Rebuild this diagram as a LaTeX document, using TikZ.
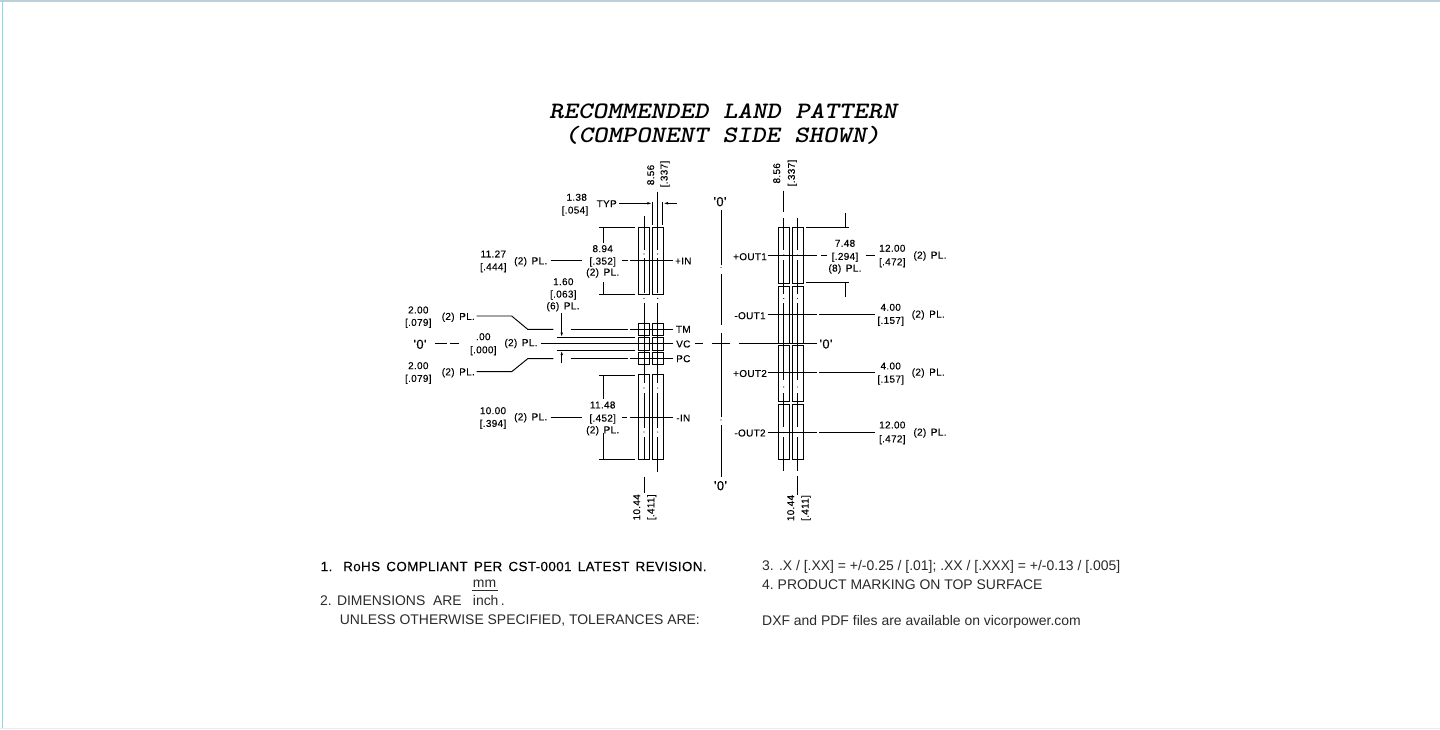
\documentclass[tikz,border=0pt]{standalone}
\usepackage{fontspec}
\usetikzlibrary{arrows.meta}
\setmainfont{Liberation Sans}
\newfontfamily\cadfont[LetterSpace=3,WordSpace=1.5,FakeBold=0.15]{Liberation Sans}
\definecolor{noteink}{HTML}{2A2A2A}
\tikzset{
  ln/.style={draw=black,line width=0.95pt},
  pad/.style={draw=black,line width=0.95pt,fill=none},
  arr/.style={ln,-{Latex[length=5pt,width=2.6pt]}},
  cad/.style={inner sep=0pt,text=black,font=\cadfont\fontsize{10}{10}\selectfont},
  cadv/.style={cad,rotate=90},
  zero/.style={inner sep=0pt,text=black,font=\cadfont\fontsize{13}{13}\selectfont},
  note/.style={inner sep=0pt,anchor=west,text=noteink,font=\fontsize{13.95}{14}\selectfont},
  titletxt/.style={inner sep=0pt,text=black,font=\ttfamily\itshape\bfseries\fontsize{23.5}{24}\selectfont},
}
\begin{document}
\begin{tikzpicture}[x=1pt,y=-1pt]
\useasboundingbox (0,0) rectangle (1440,729);
% frame
\draw[draw=black!0,fill=white] (0,0) rectangle (1440,729);
\fill[fill={rgb,255:red,190;green,208;blue,218}] (0,0) rectangle (1440,1.6);
\fill[fill={rgb,255:red,165;green,205;blue,216}] (1.8,0) rectangle (3,729);
\fill[fill={rgb,255:red,235;green,235;blue,235}] (0,727.8) rectangle (1440,729);

% title
\node[titletxt] (title1) at (723,111) {\scalebox{1.175}[1]{RECOMMENDED LAND PATTERN}};
\node[titletxt] (title2) at (722.5,135) {\scalebox{1.165}[1]{(COMPONENT SIDE SHOWN)}};

% left pads
\foreach \xa/\xb in {638.7/649.3,652.3/663.3}{
  \foreach \ya/\yb in {227.7/294,323.3/335.3,337.7/350,352.3/364.3,374.7/459.7}{
    \draw[pad] (\xa,\ya) rectangle (\xb,\yb);
  }
}
% right pads
\foreach \xa/\xb in {778.3/789.3,792.3/803}{
  \foreach \ya/\yb in {227.7/283.3,286.3/343.3,345.7/401,404/459.3}{
    \draw[pad] (\xa,\ya) rectangle (\xb,\yb);
  }
}
% centrelines of the columns
\foreach \x in {644,657.7}{
  \draw[ln] (\x,216)--(\x,250) (\x,258)--(\x,293) (\x,303)--(\x,383) (\x,393)--(\x,428) (\x,437)--(\x,460);
  \fill (\x,254) circle (.55pt) (\x,298.5) circle (.55pt) (\x,388) circle (.55pt) (\x,432) circle (.55pt);
}
\draw[ln] (657.7,460)--(657.7,471.7);
\draw[ln] (644,476.7)--(644,493);
\foreach \x in {783.7,797.3}{
  \draw[ln] (\x,218)--(\x,250) (\x,260)--(\x,294) (\x,303)--(\x,380) (\x,393)--(\x,427) (\x,437)--(\x,470.5);
  \fill (\x,255) circle (.55pt) (\x,298.5) circle (.55pt) (\x,387) circle (.55pt) (\x,432.5) circle (.55pt);
}
\draw[ln] (783.7,190.7)--(783.7,211.7);
\draw[ln] (797.3,475.7)--(797.3,495);

% left top dimension
\draw[ln] (657.7,191.7)--(657.7,221);
\draw[ln] (652.7,201.7)--(652.7,225) (662.7,201.7)--(662.7,225);
\draw[arr] (619.3,203.3)--(652.4,203.3);
\draw[arr] (676.7,203.3)--(663,203.3);
\node[cadv] (l856) at (650.7,175) {8.56};
\node[cadv] (l337) at (665,174) {[.337]};
\node[cad] (l138) at (576.7,197.3) {1.38};
\node[cad] (l054) at (575,211) {[.054]};
\node[cad] (ltyp) at (606.7,203.7) {TYP};

% +IN
\draw[ln] (599,227.7)--(635,227.7) (599,294)--(635,294);
\draw[ln] (603,227.7)--(603,243.3) (603,281.7)--(603,294);
\node[cad] (l894) at (602.7,248.7) {8.94};
\node[cad] (l352) at (602.7,262) {[.352]};
\node[cad] (l2pl1) at (602.7,273) {(2) PL.};
\draw[ln] (550.7,260.7)--(581.7,260.7) (621.7,260.7)--(628.3,260.7) (630,260.7)--(673.3,260.7);
\node[cad] (lin) at (683.3,261) {+IN};
\node[cad] (l1127) at (493.3,254) {11.27};
\node[cad] (l444) at (493.3,267.7) {[.444]};
\node[cad] (l2pl2) at (530.7,261.7) {(2) PL.};

% 1.60
\node[cad] (l160) at (563.3,281.7) {1.60};
\node[cad] (l063) at (563.3,295) {[.063]};
\node[cad] (l6pl) at (563,306.7) {(6) PL.};
\draw[arr] (561.7,313)--(561.7,337.5);
\draw[arr] (561.7,363.3)--(561.7,350.2);

% signal pins, leaders
\node[cad] (l200a) at (418.3,310) {2.00};
\node[cad] (l079a) at (418.3,323.3) {[.079]};
\node[cad] (l2pl3) at (458.3,317.3) {(2) PL.};
\draw[ln] (476.7,316)--(511.7,316)--(527.7,329.3)--(553.3,329.3);
\draw[ln] (570.7,329.3)--(628.3,329.3) (630,329.3)--(673.3,329.3);
\node[cad] (ltm) at (683.3,329.3) {TM};
\draw[ln] (556.7,337.7)--(635,337.7) (556.7,350)--(635,350);
\draw[ln] (541,343.7)--(673.3,343.7);
\node[cad] (lvc) at (683.3,344) {VC};
\node[zero] (z1) at (420,344.3) {'0'};
\draw[ln] (435,343.7)--(446.7,343.7) (450,343.7)--(459.3,343.7);
\node[cad] (l00) at (483.3,336.7) {.00};
\node[cad] (l000) at (483.3,350.7) {[.000]};
\node[cad] (l2pl4) at (521,343.5) {(2) PL.};
\node[cad] (l200b) at (418.3,365.7) {2.00};
\node[cad] (l079b) at (418.3,379.3) {[.079]};
\node[cad] (l2pl5) at (458.3,372.7) {(2) PL.};
\draw[ln] (476.7,371.7)--(511.7,371.7)--(527.7,358.7)--(553.3,358.7);
\draw[ln] (570.7,358.7)--(628.3,358.7) (630,358.7)--(673.3,358.7);
\node[cad] (lpc) at (683.3,358.7) {PC};

% -IN
\draw[ln] (599,375)--(635,375) (599,459.7)--(635,459.7);
\draw[ln] (603,375)--(603,399) (603,433.3)--(603,459.7);
\node[cad] (l1148) at (602.7,405) {11.48};
\node[cad] (l452) at (602.7,419) {[.452]};
\node[cad] (l2pl6) at (602.7,430.7) {(2) PL.};
\draw[ln] (550.7,417.3)--(582.3,417.3) (621.7,417.3)--(626.7,417.3) (630,417.3)--(673.3,417.3);
\node[cad] (lmin) at (683.3,418) {-IN};
\node[cad] (l1000) at (493,410.7) {10.00};
\node[cad] (l394) at (493,424.3) {[.394]};
\node[cad] (l2pl7) at (530.7,417.7) {(2) PL.};
\node[cadv] (l1044a) at (636.7,507.3) {10.44};
\node[cadv] (l411a) at (651.7,507.3) {[.411]};

% centre axis
\draw[ln] (721,210)--(721,265) (721,274)--(721,325) (721,333.3)--(721,416.7) (721,425)--(721,476.7);
\fill (721,267.3) circle (.55pt) (721,420) circle (.55pt);
\draw[ln] (695,343.7)--(703,343.7) (711.7,343.7)--(730,343.7) (739,343.7)--(816.7,343.7);
\node[zero] (z2) at (720,201.7) {'0'};
\node[zero] (z3) at (720.5,485.7) {'0'};
\node[zero] (z4) at (826,344) {'0'};

% right side
\node[cadv] (r856) at (776.7,173.3) {8.56};
\node[cadv] (r337) at (792.3,173) {[.337]};
\draw[ln] (806,227.7)--(849.3,227.7) (806,282.7)--(849.3,282.7);
\draw[ln] (845,213.3)--(845,227.7) (845,282.7)--(845,296.7);
\node[cad] (rout1p) at (750,256.7) {+OUT1};
\draw[ln] (767.7,255.3)--(816.7,255.3) (821,255.3)--(827,255.3) (865.7,255.3)--(875,255.3);
\node[cad] (r748) at (845,243.3) {7.48};
\node[cad] (r294) at (845,257.3) {[.294]};
\node[cad] (r8pl) at (845,269) {(8) PL.};
\node[cad] (r1200a) at (892.3,248.3) {12.00};
\node[cad] (r472a) at (892.3,262.7) {[.472]};
\node[cad] (r2pl1) at (930,256) {(2) PL.};
\node[cad] (rout1m) at (750,315.7) {-OUT1};
\draw[ln] (767.7,314.3)--(816.7,314.3) (819.3,314.3)--(875,314.3);
\node[cad] (r400a) at (890.7,307.3) {4.00};
\node[cad] (r157a) at (890.7,321.3) {[.157]};
\node[cad] (r2pl2) at (928.3,315) {(2) PL.};
\node[cad] (rout2p) at (750,373.5) {+OUT2};
\draw[ln] (767.7,372.7)--(816.7,372.7) (819.3,372.7)--(875,372.7);
\node[cad] (r400b) at (890.7,366) {4.00};
\node[cad] (r157b) at (890.7,380) {[.157]};
\node[cad] (r2pl3) at (928.3,373) {(2) PL.};
\node[cad] (rout2m) at (750,433) {-OUT2};
\draw[ln] (767.7,432.3)--(816.7,432.3) (819.3,432.3)--(875,432.3);
\node[cad] (r1200b) at (892.3,425) {12.00};
\node[cad] (r472b) at (892.3,439.7) {[.472]};
\node[cad] (r2pl4) at (930,433) {(2) PL.};
\node[cadv] (r1044) at (790.7,508) {10.44};
\node[cadv] (r411) at (806,508) {[.411]};

% notes
\node[inner sep=0pt,anchor=west,text=black,font=\cadfont\fontsize{13.4}{13}\selectfont] (n1a) at (320.5,566.5) {1.};
\node[inner sep=0pt,anchor=west,text=black,font=\cadfont\fontsize{13.4}{13}\selectfont] (n1b) at (343,566.5) {RoHS COMPLIANT PER CST-0001 LATEST REVISION.};
\node[note] (n2) at (320,601) {2. DIMENSIONS \ ARE};
\node[note] (nmm) at (484.5,584) [anchor=center] {mm};
\draw[draw=noteink,line width=0.7pt] (471.7,590.7)--(498.3,590.7);
\node[note] (ninch) at (472.7,600.5) {inch\,.};
\node[note] (n2b) at (339.7,620.5) {UNLESS OTHERWISE SPECIFIED, TOLERANCES ARE:};
\node[note] (n3) at (762,566.5) {3. .X / [.XX] = +/-0.25 / [.01]; .XX / [.XXX] = +/-0.13 / [.005]};
\node[note] (n4) at (762,585) {4.\ PRODUCT MARKING ON TOP SURFACE};
\node[note] (n5) at (762,621.5) {DXF and PDF files are available on vicorpower.com};
\end{tikzpicture}
\end{document}
